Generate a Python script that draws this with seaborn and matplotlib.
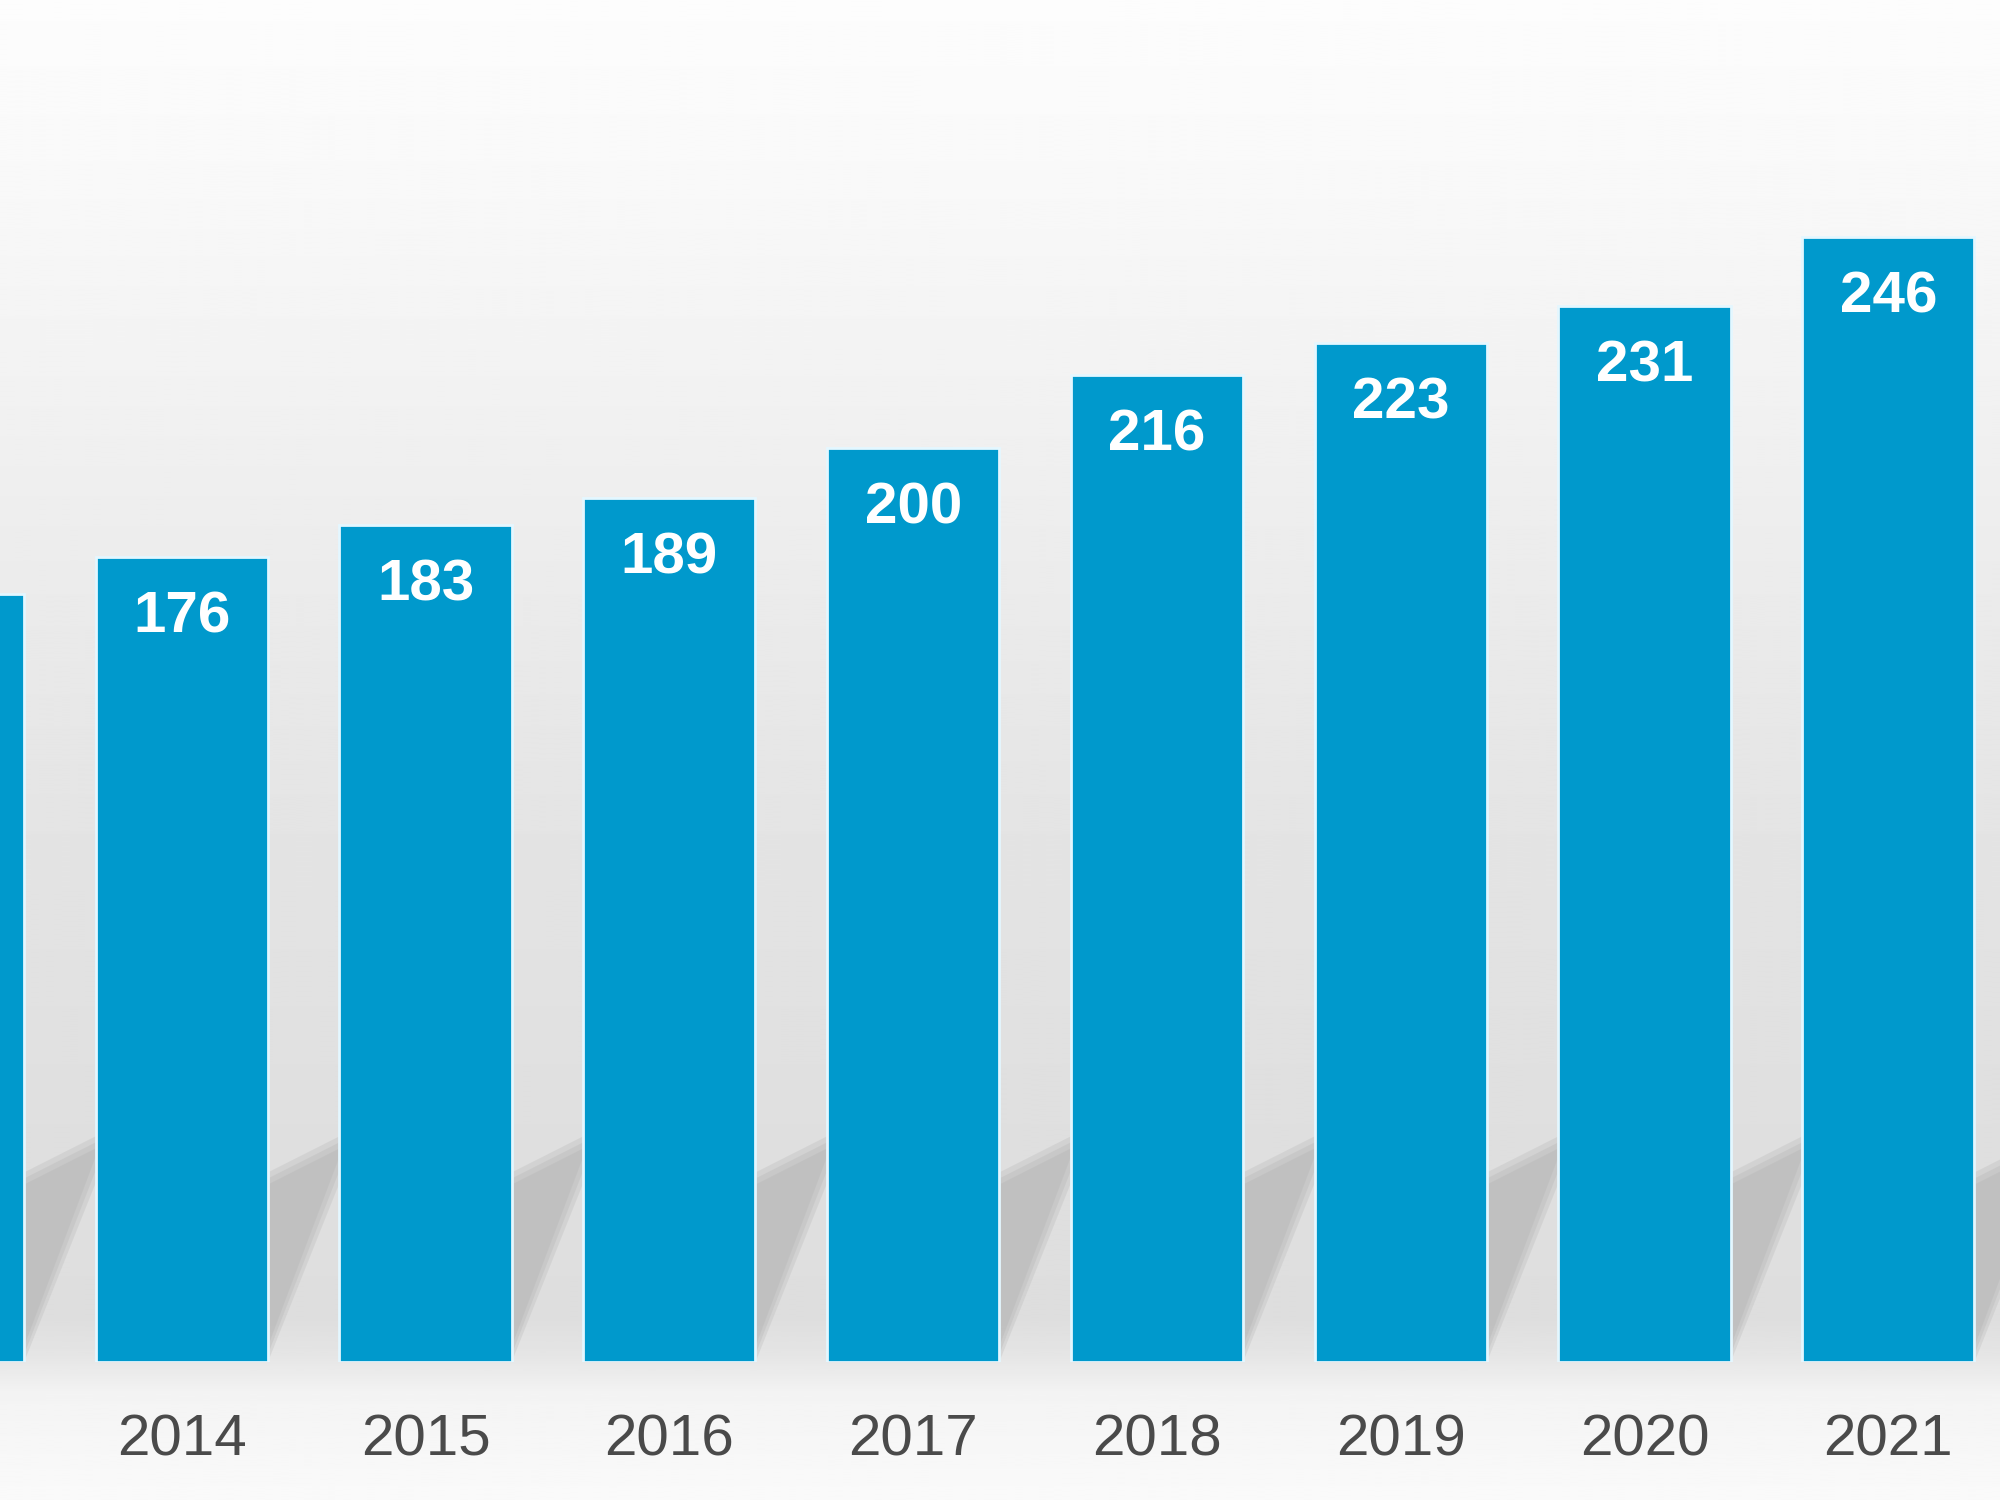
import numpy as np
import matplotlib
matplotlib.use("Agg")
import matplotlib.pyplot as plt
from matplotlib.patches import Polygon
import seaborn as sns

years = ["2013", "2014", "2015", "2016", "2017", "2018", "2019", "2020", "2021"]
values = [168, 176, 183, 189, 200, 216, 223, 231, 246]

bar_color = "#0099cc"
bar_width = 0.706

sns.set_theme(style="white")
plt.rcParams["font.family"] = ["Liberation Sans", "DejaVu Sans"]

fig = plt.figure(figsize=(20, 15), dpi=100)

# grey studio-style background
bg = fig.add_axes([0, 0, 1, 1], zorder=-2)
stops = [0.0, 0.12, 0.35, 0.55, 0.75, 0.88, 0.905, 0.93, 1.0]
greys = [0.99, 0.975, 0.93, 0.895, 0.875, 0.87, 0.9, 0.955, 0.98]
rows = np.linspace(0, 1, 600)
grad = np.interp(rows, stops, greys)[:, None]
bg.imshow(grad, aspect="auto", cmap="gray", vmin=0, vmax=1, extent=[0, 1, 0, 1])
bg.set_axis_off()

ax = fig.add_axes([0, 108 / 1176, 1, 1068 / 1176])
ax.patch.set_visible(False)

sns.barplot(x=years, y=values, color=bar_color, saturation=1, width=bar_width,
            edgecolor="#e4f7ff", linewidth=2, ax=ax, zorder=3)

# soft floor shadows behind the bars (a few stacked layers for blurred edges)
for i in range(len(years)):
    left, right = i - bar_width / 2, i + bar_width / 2
    for k, shrink in enumerate([0.0, 0.04, 0.08]):
        pts = [(left, 0), (right - shrink * 0.3, 0),
               (right + 0.39 - shrink, 52 - shrink * 60),
               (left + 0.39 - shrink, 33 - shrink * 60)]
        ax.add_patch(Polygon(pts, closed=True, facecolor="#a8a8a8", alpha=0.22,
                             edgecolor="none", zorder=1))

ax.bar_label(ax.containers[0], labels=[str(v) for v in values], padding=-63,
             color="white", fontsize=42, fontweight="bold", zorder=5)

ax.set_xlim(0.2545, 8.458)
ax.set_ylim(0, 297.9)
ax.set_xlabel("")
ax.set_ylabel("")
ax.set_yticks([])
ax.tick_params(axis="x", length=0, pad=37, labelsize=42, labelcolor="#4a4a4a")
sns.despine(ax=ax, left=True, bottom=True)

fig.savefig("out.png", dpi=100)
